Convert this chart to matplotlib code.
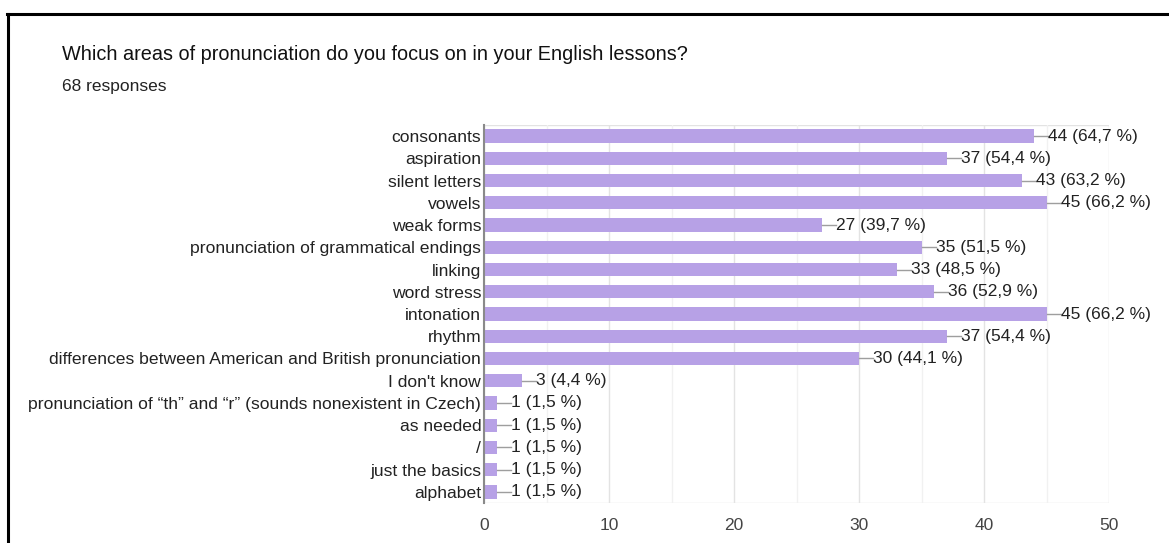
import matplotlib
matplotlib.use("Agg")
import matplotlib.pyplot as plt
from matplotlib.ticker import MultipleLocator

categories = [
    "consonants", "aspiration", "silent letters", "vowels", "weak forms",
    "pronunciation of grammatical endings", "linking", "word stress",
    "intonation", "rhythm",
    "differences between American and British pronunciation",
    "I don't know",
    "pronunciation of \u201cth\u201d and \u201cr\u201d (sounds nonexistent in Czech)",
    "as needed", "/", "just the basics", "alphabet",
]
counts = [44, 37, 43, 45, 27, 35, 33, 36, 45, 37, 30, 3, 1, 1, 1, 1, 1]
percents = ["64,7", "54,4", "63,2", "66,2", "39,7", "51,5", "48,5", "52,9",
            "66,2", "54,4", "44,1", "4,4", "1,5", "1,5", "1,5", "1,5", "1,5"]
x_ticks = [0, 10, 20, 30, 40, 50]
title = "Which areas of pronunciation do you focus on in your English lessons?"
subtitle = "68 responses"

plt.rcParams['font.family'] = ['Liberation Sans', 'DejaVu Sans']

W, H = 1169, 543
fig = plt.figure(figsize=(W / 100, H / 100), dpi=100)
ax = fig.add_axes([484 / W, 1 - 503 / H, (1109 - 484) / W, (503 - 125) / H])

ypos = list(range(len(categories)))
bar_color = "#b7a1e6"
ax.barh(ypos, counts, height=0.6, color=bar_color, zorder=3)

for y, c, p in zip(ypos, counts, percents):
    ax.plot([c, c + 1.15], [y, y], color="#9e9e9e", lw=1.0, zorder=3)
    ax.text(c + 1.15, y, f"{c} ({p} %)", va="center", ha="left",
            fontsize=12.5, color="#222222")

ax.set_xlim(0, 50)
ax.set_ylim(len(categories) - 0.5, -0.5)
ax.set_xticks(x_ticks)
ax.xaxis.set_minor_locator(MultipleLocator(5))
ax.set_yticks(ypos)
ax.set_yticklabels(categories, fontsize=12.6, color="#222222")
ax.tick_params(axis="y", length=0, pad=2)
ax.tick_params(axis="x", which="both", length=0, pad=11, labelsize=12.5,
               labelcolor="#444444")
ax.grid(axis="x", which="major", color="#e3e3e3", lw=1.0, zorder=0)
ax.grid(axis="x", which="minor", color="#f1f1f1", lw=1.0, zorder=0)
ax.grid(axis="y", visible=False)
for s in ["top", "right", "bottom"]:
    ax.spines[s].set_visible(False)
ax.spines["left"].set_color("#8a8a8a")
ax.spines["left"].set_linewidth(1.5)
ax.spines["left"].set_zorder(4)
ax.axhline(-0.5, color="#e3e3e3", lw=1.0, zorder=0)
ax.axhline(len(categories) - 0.5, color="#e3e3e3", lw=1.0, zorder=0)

fig.text(62 / W, 1 - 55 / H, title, fontsize=14.3, color="#111111",
         va="center", ha="left")
fig.text(62 / W, 1 - 87 / H, subtitle, fontsize=12.5, color="#222222",
         va="center", ha="left")

fig.add_artist(plt.Line2D([7 / W, 1], [1 - 14 / H, 1 - 14 / H],
                          color="black", lw=2.2, transform=fig.transFigure))
fig.add_artist(plt.Line2D([8 / W, 8 / W], [0, 1 - 14 / H],
                          color="black", lw=2.2, transform=fig.transFigure))

fig.savefig("out.png", dpi=100, facecolor="white")
